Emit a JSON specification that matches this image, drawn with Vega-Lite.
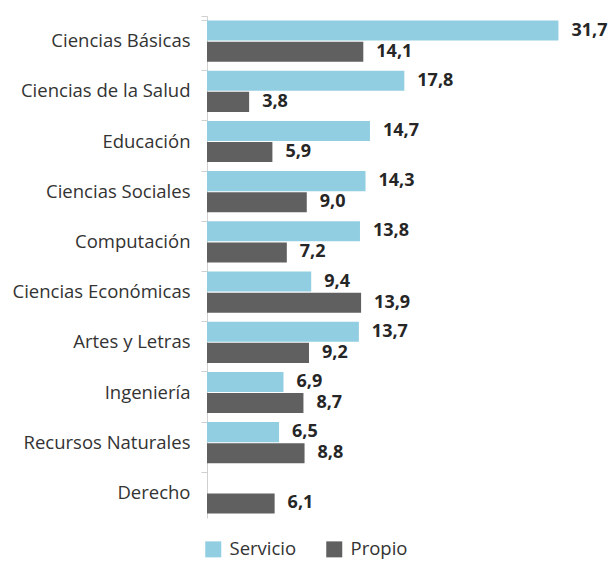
{
  "$schema": "https://vega.github.io/schema/vega-lite/v6.json",
  "width": 388,
  "height": 502,
  "padding": {"top": 7, "left": 12, "right": 0, "bottom": 3},
  "config": {
    "view": {"stroke": null},
    "font": "Open Sans",
    "locale": {"number": {"decimal": ",", "thousands": ".", "grouping": [3], "currency": ["", " €"]}}
  },
  "data": {
    "values": [
      {"area": "Ciencias Básicas", "serie": "Servicio", "valor": 31.7},
      {"area": "Ciencias Básicas", "serie": "Propio", "valor": 14.1},
      {"area": "Ciencias de la Salud", "serie": "Servicio", "valor": 17.8},
      {"area": "Ciencias de la Salud", "serie": "Propio", "valor": 3.8},
      {"area": "Educación", "serie": "Servicio", "valor": 14.7},
      {"area": "Educación", "serie": "Propio", "valor": 5.9},
      {"area": "Ciencias Sociales", "serie": "Servicio", "valor": 14.3},
      {"area": "Ciencias Sociales", "serie": "Propio", "valor": 9.0},
      {"area": "Computación", "serie": "Servicio", "valor": 13.8},
      {"area": "Computación", "serie": "Propio", "valor": 7.2},
      {"area": "Ciencias Económicas", "serie": "Servicio", "valor": 9.4},
      {"area": "Ciencias Económicas", "serie": "Propio", "valor": 13.9},
      {"area": "Artes y Letras", "serie": "Servicio", "valor": 13.7},
      {"area": "Artes y Letras", "serie": "Propio", "valor": 9.2},
      {"area": "Ingeniería", "serie": "Servicio", "valor": 6.9},
      {"area": "Ingeniería", "serie": "Propio", "valor": 8.7},
      {"area": "Recursos Naturales", "serie": "Servicio", "valor": 6.5},
      {"area": "Recursos Naturales", "serie": "Propio", "valor": 8.8},
      {"area": "Derecho", "serie": "Propio", "valor": 6.1}
    ]
  },
  "encoding": {
    "y": {
      "field": "area",
      "type": "nominal",
      "sort": null,
      "title": null,
      "scale": {"paddingInner": 0.18, "paddingOuter": 0.09},
      "axis": {
        "labelFontSize": 18.5,
        "labelColor": "#333333",
        "labelPadding": 11,
        "tickSize": 6,
        "tickColor": "#d0d0d0",
        "domainColor": "#d0d0d0",
        "bandPosition": 0,
        "tickExtra": true
      }
    },
    "yOffset": {
      "field": "serie",
      "type": "nominal",
      "scale": {"domain": ["Servicio", "Propio"], "paddingInner": 0.05}
    },
    "x": {
      "field": "valor",
      "type": "quantitative",
      "scale": {"domain": [0, 35]},
      "axis": null
    }
  },
  "layer": [
    {
      "mark": {"type": "bar"},
      "encoding": {
        "color": {
          "field": "serie",
          "type": "nominal",
          "scale": {"domain": ["Servicio", "Propio"], "range": ["#92CEE1", "#606060"]},
          "legend": {
            "title": null,
            "orient": "none",
            "direction": "horizontal",
            "legendX": -3,
            "legendY": 524,
            "symbolType": "square",
            "symbolSize": 256,
            "symbolStrokeWidth": 0,
            "symbolOpacity": 1,
            "labelFontSize": 18.5,
            "labelColor": "#333333",
            "labelOffset": 7,
            "columnPadding": 28
          }
        }
      }
    },
    {
      "mark": {"type": "text", "align": "left", "baseline": "middle", "dx": 13, "fontSize": 18, "fontWeight": "bold", "color": "#262626"},
      "encoding": {
        "text": {"field": "valor", "type": "quantitative", "format": ".1f"}
      }
    }
  ]
}
